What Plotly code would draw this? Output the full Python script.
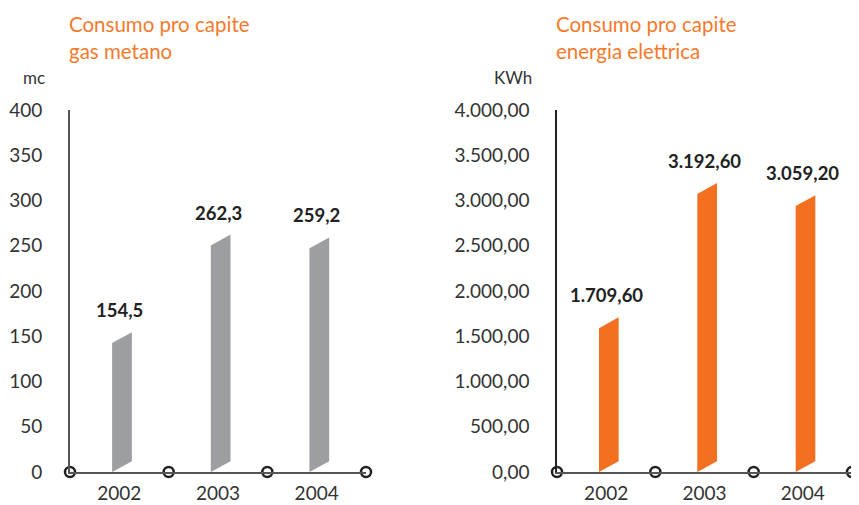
import plotly.graph_objects as go

# ── data ─────────────────────────────────────────────
years      = ["2002", "2003", "2004"]
gas_values = [154.5, 262.3, 259.2]
ele_values = [1709.60, 3192.60, 3059.20]

gas_ticks = [0, 50, 100, 150, 200, 250, 300, 350, 400]
ele_ticks = [0, 500, 1000, 1500, 2000, 2500, 3000, 3500, 4000]

GRAY   = "#9c9ea1"
ORANGE = "#f37021"
TITLE  = "#f47a2c"
TEXT   = "#333333"
FONT   = "Lato"

# page body has an 8px margin, so the figure is placed 8px in from the corner
W, H, OFF = 851, 497, 8


def px_x(x):
    return (x - OFF) / W


def px_y(y):
    return 1 - (y - OFF) / H


def it_num(v, dec):
    s = f"{v:,.{dec}f}"
    return s.replace(",", "X").replace(".", ",").replace("X", ".")


fig = go.Figure()

panels = [
    # values, ticks, tick decimals, label decimals, colour, axes, x-domain, title, unit
    (gas_values, gas_ticks, 0, 1, GRAY, "x", "y", [px_x(70), px_x(366)],
     "Consumo pro capite<br>gas metano", "mc", 1, "#555", 2),
    (ele_values, ele_ticks, 2, 2, ORANGE, "x2", "y2", [px_x(557), px_x(852)],
     "Consumo pro capite<br>energia elettrica", "KWh", 2, "#222", 1.5),
]

y_dom = [px_y(472), px_y(110)]

for vals, ticks, tdec, ldec, color, xa, ya, dom, title, unit, n, lcol, lw in panels:
    ymax = ticks[-1]
    slant = 0.03 * ymax
    bw = 0.2
    # slanted bars as parallelograms
    for i, v in enumerate(vals):
        c = i + 0.527
        fig.add_trace(go.Scatter(
            x=[c - bw/2, c + bw/2, c + bw/2, c - bw/2, c - bw/2],
            y=[0, slant, v, v - slant, 0],
            fill="toself", fillcolor=color, mode="lines",
            line=dict(width=0, color=color),
            xaxis=xa, yaxis=ya, hoverinfo="skip", showlegend=False,
        ))
        fig.add_annotation(
            x=i + 0.5, y=v, xref=xa, yref=ya, text=f"<b>{it_num(v, ldec)}</b>",
            showarrow=False, yshift=22, font=dict(family=FONT, size=18.5, color="#222"),
        )
    # baseline circles
    fig.add_trace(go.Scatter(
        x=[0, 1, 2, 3], y=[0, 0, 0, 0], mode="markers",
        marker=dict(size=10, color="white", line=dict(color="#222", width=2.5)),
        xaxis=xa, yaxis=ya, cliponaxis=False, hoverinfo="skip", showlegend=False,
    ))

    sfx = "" if n == 1 else str(n)
    fig.layout["xaxis" + sfx] = dict(
        domain=dom, range=[0, 3], anchor=ya, automargin=False,
        tickvals=[0.5, 1.5, 2.5], ticktext=years, ticks="",
        showgrid=False, zeroline=False, showline=True, linecolor="#555", linewidth=2,
        tickfont=dict(family=FONT, size=19, color=TEXT), ticklabelstandoff=3,
    )
    fig.layout["yaxis" + sfx] = dict(
        domain=y_dom, range=[0, ymax], anchor=xa, automargin=False,
        tickvals=ticks, ticktext=[it_num(t, tdec) for t in ticks], ticks="",
        showgrid=False, zeroline=False, showline=True, linecolor=lcol, linewidth=lw,
        tickfont=dict(family=FONT, size=19, color=TEXT), ticklabelstandoff=22,
    )
    # panel title and unit
    fig.add_annotation(
        x=dom[0] - 3/W, y=px_y(10), xref="paper", yref="paper", text=title,
        showarrow=False, xanchor="left", yanchor="top", align="left",
        font=dict(family=FONT, size=20.5, color=TITLE),
    )
    fig.add_annotation(
        x=dom[0] - 23/W, y=px_y(77), xref="paper", yref="paper", text=unit,
        showarrow=False, xanchor="right", yanchor="middle",
        font=dict(family=FONT, size=17, color=TEXT),
    )

fig.update_layout(
    width=W, height=H,
    margin=dict(l=0, r=0, t=0, b=0),
    paper_bgcolor="white", plot_bgcolor="white",
)

fig.write_html("out.html")
